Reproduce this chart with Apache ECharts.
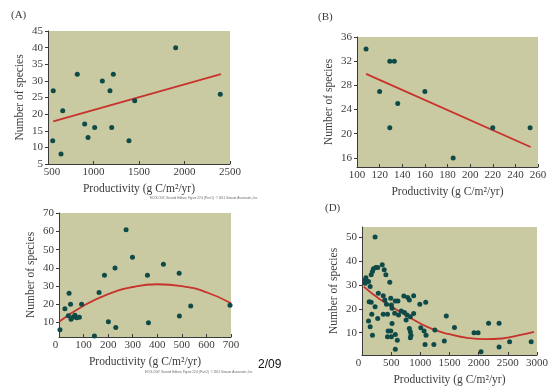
<!DOCTYPE html>
<html><head><meta charset="utf-8">
<script src="https://cdn.jsdelivr.net/npm/echarts@6/dist/echarts.min.js"></script>
<style>html,body{margin:0;padding:0;background:#fff}#c{width:551px;height:387px}</style>
</head><body><div id="c"></div>
<script>
// ---- Panel A ----
const aX = [558, 552, 643, 662, 822, 903, 940, 1013, 1097, 1181, 1200, 1218, 1390, 1453, 1903, 2393];
const aY = [27, 12, 8, 21, 32, 17, 13, 16, 30, 27, 16, 32, 12, 24, 40, 26];
const aFitX = [558, 2400];
const aFitY = [17.8, 32];
const aXTicks = [500, 1000, 1500, 2000, 2500];
const aYTicks = [5, 10, 15, 20, 25, 30, 35, 40, 45];
// ---- Panel B ----
const bX = [108, 120, 129, 133, 129, 136, 160, 185, 220, 253];
const bY = [34, 27, 32, 32, 21, 25, 27, 16, 21, 21];
const bFitX = [108, 253.5];
const bFitY = [29.9, 17.8];
const bXTicks = [100, 120, 140, 160, 180, 200, 220, 240, 260];
const bYTicks = [16, 20, 24, 28, 32, 36];
// ---- Panel C ----
const cX = [4, 24, 41, 47, 38, 49, 58, 65, 72, 83, 92, 144, 163, 185, 201, 228, 231, 273, 299, 360, 364, 425, 489, 490, 536, 696];
const cY = [6, 17.5, 26, 20, 13.7, 11.7, 13, 14, 12.6, 12.8, 20, 2.5, 26.5, 36, 10.4, 40, 7.2, 61, 45.8, 36, 9.8, 42, 37, 13.5, 19, 19.5];
const cFitX = [0, 100, 200, 300, 400, 500, 600, 700];
const cFitY = [10.4, 19.2, 25.6, 29.5, 31.0, 30.0, 26.6, 20.6];
const cXTicks = [0, 100, 200, 300, 400, 500, 600, 700];
const cYTicks = [10, 20, 30, 40, 50, 60, 70];
// ---- Panel D ----
const dX = [224, 56, 67, 112, 56, 140, 157, 179, 196, 235, 269, 347, 381, 409, 476, 123, 157, 280, 364, 392, 420, 493, 504, 571, 616, 717, 784, 812, 885, 224, 168, 112, 140, 179, 269, 364, 437, 515, 560, 627, 672, 728, 773, 829, 885, 756, 515, 448, 493, 437, 504, 571, 605, 571, 812, 829, 840, 829, 1008, 1064, 1098, 1081, 1232, 1249, 991, 1092, 1445, 1585, 1411, 1920, 1990, 2040, 2170, 2350, 2350, 2530, 2900];
const dY = [50, 32, 33, 31.4, 30.7, 29.3, 34.2, 35.6, 36.7, 37.3, 37.3, 38.4, 36.3, 34.2, 31.1, 23, 22.7, 26.5, 25.5, 23.7, 21.9, 24.4, 21.6, 23.3, 23.3, 25.4, 24.7, 23.7, 25.5, 20.9, 17.7, 14.9, 12.5, 9, 16, 17.7, 17.7, 20.2, 18.1, 17.4, 19.1, 18.5, 17.4, 16.7, 18, 15.3, 13.9, 10.7, 10.7, 8.3, 8.3, 9.3, 6.9, 3.1, 11.8, 10.4, 9, 7.9, 12.1, 10.7, 9, 5.1, 5.1, 11.1, 21.9, 22.7, 17, 12.2, 6.6, 10, 10, 2.1, 14, 14, 4, 6.2, 6.2];
const dFitX = [30, 300, 600, 900, 1200, 1500, 1800, 2100, 2400, 2700, 2950];
const dFitY = [29.3, 24.1, 19.5, 15.2, 11.6, 9.4, 7.9, 7.3, 7.6, 9.0, 10.4];
const dXTicks = [0, 500, 1000, 1500, 2000, 2500, 3000];
const dYTicks = [10, 20, 30, 40, 50];

const xName = 'Productivity (g C/m\u00b2/yr)';
const yName = 'Number of species';
const panelLabels = ['(A)', '(B)', '(D)'];

const FONT = '"Liberation Serif", "DejaVu Serif", serif';
const BG = '#c9caa2';
const DOT = '#0e4a48';
const RED = '#c8322c';
const AX = '#3a3a3a';
const TXT = '#3c3c3c';

const pairs = (xs, ys) => xs.map((x, i) => [x, ys[i]]);

function xAxis(gi, min, max, interval, ticks, shiftMin) {
  return {
    type: 'value', gridIndex: gi, min: min, max: max, interval: interval,
    splitLine: {show: false},
    axisLine: {show: true, onZero: false, lineStyle: {color: AX, width: 1}},
    axisTick: {show: true, inside: true, length: 3, lineStyle: {color: AX}, customValues: ticks},
    axisLabel: {
      customValues: ticks, color: TXT, fontFamily: FONT, fontSize: 11, margin: 3,
      formatter: v => (v === ticks[0] && shiftMin) ? '{s|' + v + '}' : String(v),
      rich: {s: {fontFamily: FONT, fontSize: 11, color: TXT,
        padding: shiftMin < 0 ? [0, -shiftMin * 2, 0, 0] : [0, 0, 0, (shiftMin || 0) * 2]}}
    },
    name: xName, nameLocation: 'middle', nameGap: 19,
    nameTextStyle: {color: TXT, fontFamily: FONT, fontSize: 11.5}
  };
}
function yAxis(gi, min, max, ticks) {
  return {
    type: 'value', gridIndex: gi, min: min, max: max,
    splitLine: {show: false},
    axisLine: {show: true, onZero: false, lineStyle: {color: AX, width: 1}},
    axisTick: {show: true, inside: false, length: 3, lineStyle: {color: AX}, customValues: ticks},
    axisLabel: {customValues: ticks, color: TXT, fontFamily: FONT, fontSize: 11, margin: 5},
    name: yName, nameLocation: 'middle', nameGap: 22,
    nameTextStyle: {color: TXT, fontFamily: FONT, fontSize: 11.5}
  };
}
function scatter(gi, xs, ys) {
  return {type: 'scatter', xAxisIndex: gi, yAxisIndex: gi, data: pairs(xs, ys),
    symbolSize: 5, itemStyle: {color: DOT, opacity: 1}, silent: true, z: 3};
}
function fit(gi, xs, ys, smooth) {
  return {type: 'line', xAxisIndex: gi, yAxisIndex: gi, data: pairs(xs, ys), smooth: smooth,
    showSymbol: false, lineStyle: {color: RED, width: 1.8}, silent: true, z: 2};
}

const grid = (l, t, w, h) => ({left: l, top: t, width: w, height: h, show: true,
  backgroundColor: BG, borderWidth: 0, containLabel: false});

const option = {
  animation: false,
  backgroundColor: '#fff',
  grid: [grid(48, 31, 182, 133), grid(357, 37, 181, 130), grid(59, 213, 172, 124), grid(362, 227, 177, 128)],
  xAxis: [
    xAxis(0, 500, 2500, 500, aXTicks, 4),
    xAxis(1, 100, 260, 20, bXTicks, 0),
    xAxis(2, 0, 700, 100, cXTicks, -3.5),
    xAxis(3, 0, 3000, 500, dXTicks, -3.5)
  ],
  yAxis: [
    yAxis(0, 5, 45, aYTicks),
    yAxis(1, 14.5, 36, bYTicks),
    yAxis(2, 2, 70.2, cYTicks),
    yAxis(3, 0.7, 54.2, dYTicks)
  ],
  series: [
    fit(0, aFitX, aFitY, false), scatter(0, aX, aY),
    fit(1, bFitX, bFitY, false), scatter(1, bX, bY),
    fit(2, cFitX, cFitY, true), scatter(2, cX, cY),
    fit(3, dFitX, dFitY, true), scatter(3, dX, dY)
  ],
  graphic: [
    {type: 'text', left: 11, top: 10, style: {text: panelLabels[0], font: '11px ' + FONT, fill: TXT}},
    {type: 'text', left: 318, top: 12, style: {text: panelLabels[1], font: '11px ' + FONT, fill: TXT}},
    {type: 'text', left: 325, top: 203, style: {text: panelLabels[2], font: '11px ' + FONT, fill: TXT}},
    {type: 'text', left: 258, top: 359, style: {text: '2/09', font: '12px "Liberation Sans", Arial, sans-serif', fill: '#111'}},
    {type: 'text', x: 295, y: -11, style: {text: 'Productivity and species richness', font: 'bold 22px "Liberation Sans", Arial, sans-serif', fill: '#111', align: 'center', verticalAlign: 'middle'}},
    {type: 'text', left: 150, top: 197, style: {text: 'ECOLOGY, Second Edition, Figure 22.6 (Part 1)  \u00a9 2011 Sinauer Associates, Inc.', font: '3px "Liberation Sans", sans-serif', fill: '#666'}},
    {type: 'text', left: 145, top: 371, style: {text: 'ECOLOGY, Second Edition, Figure 22.6 (Part 2)  \u00a9 2011 Sinauer Associates, Inc.', font: '3px "Liberation Sans", sans-serif', fill: '#666'}}
  ]
};
const chart = echarts.init(document.getElementById('c'), null, {renderer: 'canvas'});
chart.setOption(option);
</script></body></html>
